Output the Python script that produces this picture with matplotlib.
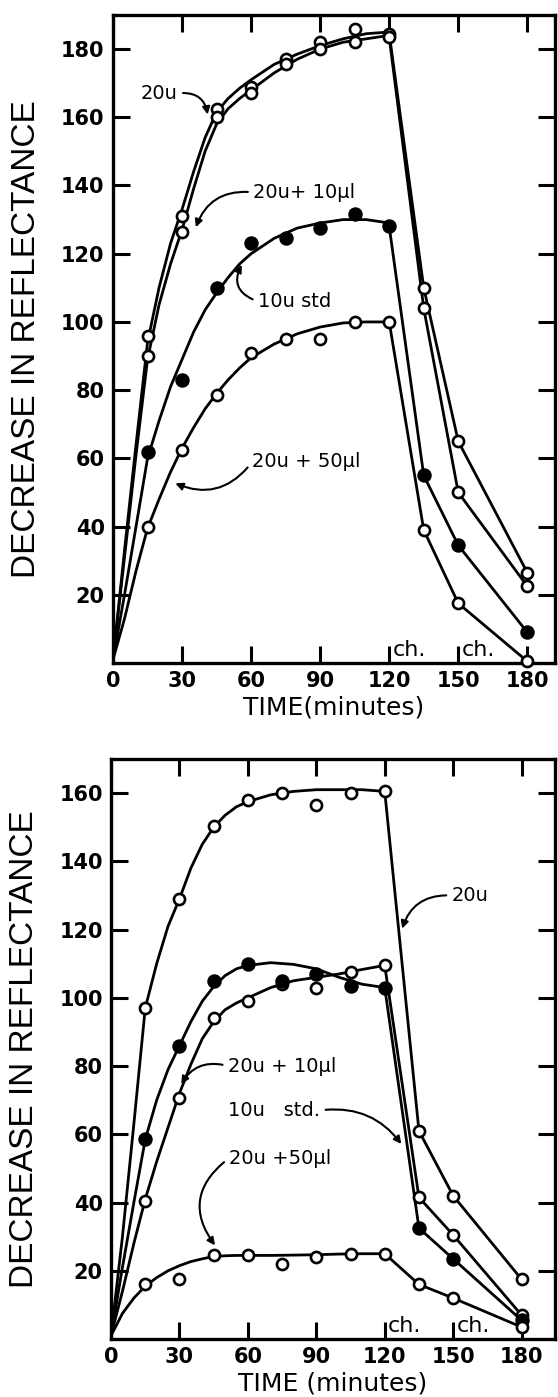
import numpy as np
import matplotlib.pyplot as plt

# sampling times of the measured points
t_pts = [15, 30, 45, 60, 75, 90, 105, 120]
t_after = [120, 135, 150, 180]
# times at which the hand-drawn smooth curves were read
t_curve = [0, 5, 10, 15, 20, 25, 30, 35, 40, 45, 50, 55, 60, 70, 80, 90, 100, 110, 120]

# ---- upper panel ----
a_20u = [96, 131, 162.5, 169, 177, 182, 186, 184.5]
a_20u_after = [110, 65, 26.5]
a_20u_curve = [1, 33, 64, 94, 110, 123, 133, 144, 154, 161.5, 165.5, 168.5, 171,
               175.5, 178.5, 181, 183, 184.5, 185]

a_20u10 = [90, 126.5, 160, 167, 175.5, 180, 182, 183.5]
a_20u10_after = [104, 50, 22.5]
a_20u10_curve = [1, 31, 61, 89, 105, 117, 127, 139, 150, 158, 162.5, 165.5, 168,
                 173, 177, 180, 182, 183, 184]

a_10u = [62, 83, 110, 123, 124.5, 127.5, 131.5, 128]
a_10u_after = [55, 34.5, 9]
a_10u_curve = [1, 20, 40, 60, 71, 81, 89, 97, 103.5, 108.5, 113, 117, 120,
               124.5, 127.5, 129, 130, 130, 129]

a_20u50 = [40, 62.5, 78.5, 91, 95, 95, 100, 100]
a_20u50_after = [39, 17.5, 0.5]
a_20u50_curve = [1, 13, 27, 39.5, 48, 56, 63, 69, 74.5, 79, 83, 86.5, 89.5,
                 93.5, 96.5, 98.5, 99.7, 100, 100]

# ---- lower panel ----
b_20u = [97, 129, 150.5, 158, 160, 156.5, 160, 160.5]
b_20u_after = [61, 42, 17.5]
b_20u_curve = [1, 30, 63, 97, 110, 121, 129, 138, 145, 150, 153.5, 156, 157.5,
               159.5, 160.5, 161, 161, 161, 160.5]

b_20u10 = [40.5, 70.5, 94, 99, 104, 102.8, 107.5, 109.5]
b_20u10_after = [41.5, 30.5, 7]
b_20u10_curve = [1, 14, 28, 41, 52, 62, 72, 80.5, 88, 93, 96.5, 98.5, 100,
                 103, 105, 106, 107, 108.3, 109.5]

b_10u = [58.5, 86, 105, 110, 105, 107, 103.5, 103]
b_10u_after = [32.5, 23.5, 5.5]
b_10u_curve = [1, 21, 40, 58.5, 70, 79, 86, 93, 99, 103.3, 106.5, 108.5, 109.5,
               110.3, 109.8, 108.5, 106, 104, 103]

b_20u50 = [16, 17.5, 24.5, 24.5, 22, 24, 25, 25]
b_20u50_after = [16, 12, 3.5]
b_20u50_curve = [1, 7.5, 12, 15.5, 18, 20, 21.5, 22.7, 23.5, 24.2, 24.4, 24.5, 24.5,
                 24.5, 24.6, 24.7, 24.9, 25, 25]

LW = 2.0


def draw_series(ax, curve, pts, after, filled):
    ax.plot(t_curve, curve, color='k', lw=LW, zorder=2, solid_joinstyle='round')
    ax.plot(t_after, [pts[-1]] + after, color='k', lw=LW, zorder=2)
    face = 'k' if filled else 'white'
    ax.plot(t_pts + t_after[1:], pts + after, ls='none', marker='o', ms=8.5 if filled else 8,
            mfc=face, mec='k', mew=1.9, zorder=3, clip_on=False)


def style_axes(ax, ymax, yticks, xmax, xlabel):
    ax.set_xlim(0, xmax)
    ax.set_ylim(0, ymax)
    ax.set_xticks([0, 30, 60, 90, 120, 150, 180])
    ax.set_yticks(yticks)
    ax.tick_params(direction='in', length=12, width=2.2, top=True, right=True,
                   labelsize=15, pad=6)
    for lab in ax.get_xticklabels() + ax.get_yticklabels():
        lab.set_fontweight('bold')
    for s in ax.spines.values():
        s.set_linewidth(2.4)
    ax.set_ylabel('DECREASE IN REFLECTANCE', family='Liberation Sans', fontsize=24, labelpad=14)
    ax.set_xlabel(xlabel, fontsize=18, labelpad=3)
    ax.text(121.5, 1.0, 'ch.', fontsize=16, va='bottom', ha='left')
    ax.text(151.5, 1.0, 'ch.', fontsize=16, va='bottom', ha='left')


fig = plt.figure(figsize=(5.58, 13.97), dpi=100)
ax1 = fig.add_axes([0.2025, 0.5254, 0.792, 0.4639])
ax2 = fig.add_axes([0.199, 0.0415, 0.795, 0.4152])

draw_series(ax1, a_20u_curve, a_20u, a_20u_after, False)
draw_series(ax1, a_20u10_curve, a_20u10, a_20u10_after, False)
draw_series(ax1, a_10u_curve, a_10u, a_10u_after, True)
draw_series(ax1, a_20u50_curve, a_20u50, a_20u50_after, False)
style_axes(ax1, 190, list(range(20, 181, 20)), 192, 'TIME(minutes)')

arrow = dict(arrowstyle='-|>', color='k', lw=1.5, mutation_scale=11, shrinkA=2, shrinkB=2)
ax1.annotate('20u', xy=(41.3, 160), xytext=(12, 167), fontsize=14, va='center',
             arrowprops=dict(arrow, connectionstyle='arc3,rad=-0.5', relpos=(1, 0.5)))
ax1.annotate('20u+ 10µl', xy=(35.6, 127), xytext=(61, 138), fontsize=14, va='center',
             arrowprops=dict(arrow, connectionstyle='arc3,rad=0.4', relpos=(0, 0.5)))
ax1.annotate('10u std', xy=(56.5, 117.5), xytext=(63, 106), fontsize=14, va='center',
             arrowprops=dict(arrow, connectionstyle='arc3,rad=-0.6', relpos=(0, 0.5)))
ax1.annotate('20u + 50µl', xy=(26, 53), xytext=(60.5, 59), fontsize=14, va='center',
             arrowprops=dict(arrow, connectionstyle='arc3,rad=-0.4', relpos=(0, 0.5)))

draw_series(ax2, b_20u_curve, b_20u, b_20u_after, False)
draw_series(ax2, b_20u10_curve, b_20u10, b_20u10_after, False)
draw_series(ax2, b_10u_curve, b_10u, b_10u_after, True)
draw_series(ax2, b_20u50_curve, b_20u50, b_20u50_after, False)
style_axes(ax2, 170, list(range(20, 161, 20)), 194.5, 'TIME (minutes)')

ax2.annotate('20u', xy=(127.3, 119.5), xytext=(149.4, 130), fontsize=14, va='center',
             arrowprops=dict(arrow, connectionstyle='arc3,rad=0.4', relpos=(0, 0.5)))
ax2.annotate('20u + 10µl', xy=(30.2, 74), xytext=(51.3, 80), fontsize=14, va='center',
             arrowprops=dict(arrow, connectionstyle='arc3,rad=0.4', relpos=(0, 0.5)))
ax2.annotate('10u   std.', xy=(128, 56.5), xytext=(51.3, 67), fontsize=14, va='center',
             arrowprops=dict(arrow, connectionstyle='arc3,rad=-0.3', relpos=(1, 0.5)))
ax2.annotate('20u +50µl', xy=(46.3, 26.8), xytext=(51.7, 53), fontsize=14, va='center',
             arrowprops=dict(arrow, connectionstyle='arc3,rad=0.5', relpos=(0, 0.5)))

fig.savefig('out.png', dpi=100)
